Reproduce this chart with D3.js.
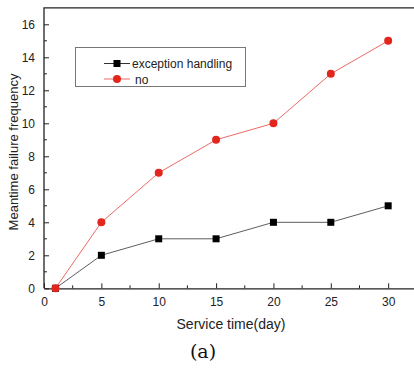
<!DOCTYPE html>
<html>
<head>
<meta charset="utf-8">
<script src="https://cdn.jsdelivr.net/npm/d3@7"></script>
<style>
  html, body { margin: 0; padding: 0; background: #fff; }
  svg { display: block; }
</style>
</head>
<body>
<svg id="chart" width="414" height="368"></svg>
<script>
const days = [1, 5, 10, 15, 20, 25, 30];
const exceptionHandling = [0, 2, 3, 3, 4, 4, 5];
const noHandling = [0, 4, 7, 9, 10, 13, 15];
const xTicks = [0, 5, 10, 15, 20, 25, 30];
const yTicks = [0, 2, 4, 6, 8, 10, 12, 14, 16];

const svg = d3.select('#chart');
const font = 'Arial, "Liberation Sans", sans-serif';

const x = d3.scaleLinear().domain([0, 32.6]).range([44, 418]);
const y = d3.scaleLinear().domain([0, 17]).range([288.3, 7.8]);

// frame: top line only shows, right side falls off the page
svg.append('path')
  .attr('d', `M${x(0)},${y(0)}V${y(17)}H${x(32.6)}`)
  .attr('fill', 'none')
  .attr('stroke', '#222')
  .attr('stroke-width', 1.3);

const gx = svg.append('g').attr('transform', `translate(0,${y(0)})`);
gx.call(d3.axisBottom(x).tickValues(xTicks).tickSizeInner(-5).tickSizeOuter(0).tickPadding(9))
  .call(g => g.select('.domain').attr('stroke', '#222').attr('stroke-width', 1.3));
gx.selectAll('text').attr('font-family', font).attr('font-size', '12px').attr('fill', '#222');
gx.selectAll('.tick line').attr('stroke', '#222');
gx.selectAll('.minor').data(d3.range(2.5, 32.6, 5)).join('line')
  .attr('x1', d => x(d)).attr('x2', d => x(d)).attr('y1', 0).attr('y2', -3)
  .attr('stroke', '#222');

const gy = svg.append('g').attr('transform', `translate(${x(0)},0)`);
gy.call(d3.axisLeft(y).tickValues(yTicks).tickSizeInner(-5).tickSizeOuter(0).tickPadding(9))
  .call(g => g.select('.domain').remove());
gy.selectAll('text').attr('font-family', font).attr('font-size', '12px').attr('fill', '#222');
gy.selectAll('.tick line').attr('stroke', '#222');
gy.selectAll('.minor').data(d3.range(1, 17, 2)).join('line')
  .attr('x1', 0).attr('x2', 3).attr('y1', d => y(d)).attr('y2', d => y(d))
  .attr('stroke', '#222');

const line = d3.line().x(d => x(d[0])).y(d => y(d[1]));
const ptsEx = days.map((d, i) => [d, exceptionHandling[i]]);
const ptsNo = days.map((d, i) => [d, noHandling[i]]);

svg.append('path').datum(ptsNo).attr('d', line)
  .attr('fill', 'none').attr('stroke', '#ee6a64').attr('stroke-width', 1);
svg.append('path').datum(ptsEx).attr('d', line)
  .attr('fill', 'none').attr('stroke', '#333').attr('stroke-width', 0.8);

svg.selectAll('.sq').data(ptsEx).join('rect')
  .attr('x', d => x(d[0]) - 3.5).attr('y', d => y(d[1]) - 3.5)
  .attr('width', 7).attr('height', 7).attr('fill', '#000');
svg.selectAll('.dot').data(ptsNo).join('circle')
  .attr('cx', d => x(d[0])).attr('cy', d => y(d[1])).attr('r', 4)
  .attr('fill', '#e3261d');

// legend
const lg = svg.append('g');
lg.append('rect').attr('x', 75.5).attr('y', 47.5).attr('width', 170).attr('height', 39)
  .attr('fill', '#fff').attr('stroke', '#777').attr('stroke-width', 1);
lg.append('line').attr('x1', 104).attr('x2', 130).attr('y1', 63.5).attr('y2', 63.5).attr('stroke', '#333');
lg.append('rect').attr('x', 113.5).attr('y', 60).attr('width', 7).attr('height', 7).attr('fill', '#000');
lg.append('text').attr('x', 132).attr('y', 68).text('exception handling')
  .attr('font-family', font).attr('font-size', '12px').attr('fill', '#222');
lg.append('line').attr('x1', 104).attr('x2', 130).attr('y1', 79).attr('y2', 79).attr('stroke', '#ee6a64');
lg.append('circle').attr('cx', 117).attr('cy', 79).attr('r', 4).attr('fill', '#e3261d');
lg.append('text').attr('x', 135).attr('y', 83.5).text('no')
  .attr('font-family', font).attr('font-size', '12px').attr('fill', '#222');

svg.append('text').attr('transform', 'translate(18,152) rotate(-90)')
  .attr('text-anchor', 'middle').attr('font-family', font).attr('font-size', '13px')
  .attr('fill', '#222').text('Meantime failure frequency');
svg.append('text').attr('x', 231).attr('y', 329)
  .attr('text-anchor', 'middle').attr('font-family', font).attr('font-size', '14px')
  .attr('fill', '#222').text('Service time(day)');
svg.append('text').attr('x', 203).attr('y', 358)
  .attr('text-anchor', 'middle').attr('font-family', '"DejaVu Serif", "Liberation Serif", serif').attr('font-size', '19px')
  .attr('fill', '#111').text('(a)');
</script>
</body>
</html>
